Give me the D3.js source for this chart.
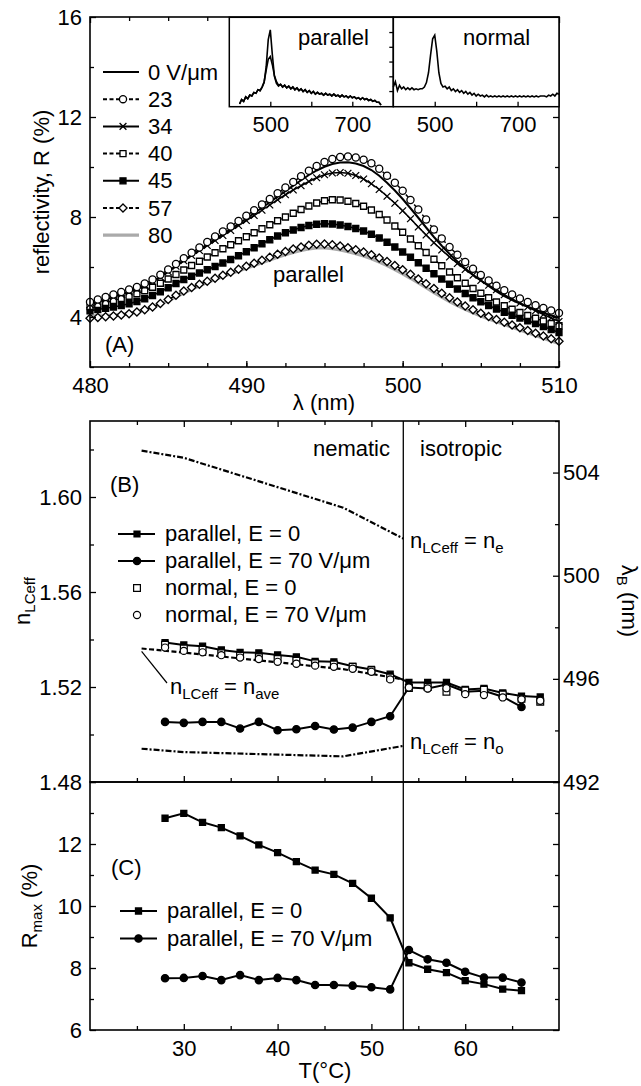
<!DOCTYPE html>
<html>
<head>
<meta charset="utf-8">
<script src="https://cdn.jsdelivr.net/npm/d3@7"></script>
<style>
  body { margin: 0; background: #fff; }
  svg { display: block; }
  text { font-family: "Liberation Sans", Arial, Helvetica, sans-serif; fill: #000; }
</style>
</head>
<body>
<div id="chart"></div>
<script>
// ---- panel A: reflectivity spectra, parallel orientation, for several fields ----
const wavelengths = d3.range(480, 510.001, 0.5);
const refl0 = [4.52,4.62,4.72,4.82,4.92,5.02,5.13,5.27,5.43,5.62,5.83,6.05,6.27,6.49,6.70,6.91,7.12,7.32,7.52,7.73,7.94,8.15,8.37,8.59,8.81,9.03,9.25,9.47,9.68,9.86,10.01,10.12,10.18,10.19,10.14,10.04,9.88,9.65,9.37,9.06,8.72,8.35,7.97,7.58,7.20,6.85,6.52,6.22,5.94,5.69,5.46,5.24,5.02,4.84,4.68,4.54,4.41,4.29,4.17,4.06,3.96];
const refl23 = [4.60,4.70,4.80,4.90,5.00,5.10,5.20,5.34,5.50,5.69,5.90,6.12,6.35,6.57,6.78,7.00,7.22,7.42,7.62,7.84,8.05,8.27,8.50,8.72,8.95,9.18,9.40,9.63,9.85,10.04,10.20,10.32,10.40,10.42,10.38,10.29,10.15,9.93,9.65,9.37,9.05,8.68,8.30,7.90,7.50,7.14,6.80,6.49,6.20,5.93,5.68,5.46,5.25,5.07,4.90,4.74,4.60,4.47,4.36,4.26,4.16];
const refl34 = [4.50,4.60,4.70,4.80,4.90,5.00,5.11,5.25,5.41,5.60,5.81,6.03,6.25,6.46,6.66,6.86,7.06,7.26,7.46,7.66,7.86,8.06,8.27,8.48,8.69,8.89,9.08,9.25,9.42,9.57,9.69,9.76,9.78,9.75,9.66,9.52,9.33,9.10,8.83,8.55,8.25,7.93,7.60,7.28,6.97,6.68,6.40,6.14,5.90,5.67,5.46,5.27,5.09,4.89,4.72,4.56,4.40,4.25,4.10,3.96,3.82];
const refl40 = [4.42,4.50,4.58,4.66,4.74,4.83,4.93,5.05,5.19,5.35,5.52,5.70,5.88,6.06,6.23,6.40,6.57,6.73,6.89,7.05,7.21,7.37,7.53,7.69,7.85,8.00,8.15,8.30,8.44,8.56,8.65,8.69,8.68,8.63,8.54,8.43,8.28,8.10,7.88,7.64,7.39,7.12,6.85,6.58,6.31,6.05,5.80,5.57,5.35,5.14,4.95,4.77,4.60,4.45,4.31,4.18,4.06,3.95,3.84,3.74,3.65];
const refl45 = [4.25,4.30,4.35,4.40,4.46,4.53,4.62,4.73,4.86,5.01,5.17,5.34,5.50,5.63,5.76,5.89,6.02,6.16,6.30,6.45,6.61,6.77,6.93,7.09,7.24,7.37,7.48,7.58,7.66,7.71,7.73,7.72,7.68,7.62,7.54,7.44,7.31,7.16,6.99,6.80,6.60,6.39,6.17,5.95,5.73,5.52,5.31,5.12,4.94,4.77,4.61,4.46,4.32,4.19,4.07,3.96,3.85,3.74,3.62,3.50,3.38];
const refl57 = [3.95,3.98,4.01,4.04,4.08,4.13,4.20,4.29,4.40,4.54,4.70,4.87,5.04,5.18,5.31,5.43,5.55,5.67,5.79,5.91,6.03,6.15,6.27,6.39,6.51,6.62,6.72,6.80,6.87,6.91,6.92,6.89,6.84,6.77,6.69,6.60,6.49,6.36,6.22,6.06,5.89,5.71,5.52,5.33,5.14,4.95,4.77,4.60,4.44,4.29,4.15,4.02,3.90,3.79,3.68,3.57,3.46,3.35,3.24,3.13,3.03];
const refl80 = [4.05,4.05,4.06,4.08,4.11,4.15,4.21,4.29,4.39,4.51,4.65,4.80,4.96,5.11,5.25,5.38,5.50,5.62,5.73,5.84,5.95,6.06,6.17,6.28,6.39,6.49,6.58,6.66,6.72,6.76,6.76,6.73,6.68,6.61,6.53,6.44,6.33,6.20,6.06,5.90,5.73,5.55,5.36,5.17,4.98,4.80,4.62,4.46,4.31,4.17,4.04,3.92,3.81,3.70,3.59,3.48,3.37,3.26,3.15,3.04,2.94];

// ---- inset spectra (arbitrary units) ----
const insetParWl = d3.range(425, 770.001, 5);
const insetParHigh = [3,8,6,11,9,13,12,16,15,19,18,22,27,45,75,86,58,34,26,23,25,22,24,21,23,20,22,19,21,18,20,17,19,16,18,15,17,14,16,14,15,13,15,13,14,12,14,12,13,11,13,11,12,10,12,10,11,9,10,8,10,8,9,7,8,6,7,5,5,2];
const insetParLow = [3,8,6,11,9,13,12,16,15,19,18,22,28,41,53,56,47,35,28,24,25,22,24,21,23,20,22,19,21,18,20,17,19,16,18,15,17,14,16,14,15,13,15,13,14,12,14,12,13,11,13,11,12,10,12,10,11,9,10,8,10,8,9,7,8,6,7,5,5,2];
const insetNormWl = d3.range(400, 800.001, 5);
const insetNorm = [22,28,18,24,20,22,19,21,19,21,19,20,19,20,20,22,27,38,58,76,80,62,38,26,22,23,20,22,18,20,17,19,16,18,15,17,14,16,13,15,12,14,12,13,11,13,11,12,11,12,11,12,11,12,11,12,11,12,11,12,11,12,11,12,11,12,11,12,11,12,11,12,12,12,11,13,12,14,12,15,14];
const insetTicks = [17.5, 34, 50.5, 67, 83.5];

// ---- panel B: effective index vs temperature ----
const temps = d3.range(28, 68.001, 2);
const nParE0 = [1.5387,1.5377,1.5372,1.5356,1.5346,1.5344,1.5335,1.5327,1.5308,1.5306,1.5287,1.5274,1.5254,1.5219,1.5219,1.5219,1.5190,1.5194,1.5175,1.5162,1.5158];
const nParE70 = [1.5053,1.5049,1.5053,1.5053,1.5025,1.5053,1.5018,1.5022,1.5036,1.5021,1.5029,1.5053,1.5077,1.5198,1.5194,1.5210,1.5180,1.5184,1.5159,1.5116];
const nNormE0 = [1.5378,1.5362,1.5357,1.5342,1.5331,1.5325,1.5318,1.5310,1.5300,1.5295,1.5285,1.5270,1.5240,1.5196,1.5200,1.5180,1.5185,1.5188,1.5168,1.5150,1.5138];
const nNormE70 = [1.5366,1.5352,1.5346,1.5334,1.5324,1.5318,1.5306,1.5298,1.5290,1.5285,1.5277,1.5264,1.5232,1.5198,1.5194,1.5195,1.5170,1.5166,1.5156,1.5148,1.5142];
const calcTemps = [25.5, 30, 47, 53.4];
const nE = [1.6195, 1.6165, 1.5955, 1.5825];
const nAve = [1.5362, 1.5345, 1.5275, 1.5232];
const nO = [1.4940, 1.4926, 1.4908, 1.4952];
const tNI = 53.4;

// ---- panel C: peak reflectivity vs temperature ----
const rmaxE0 = [12.83,12.99,12.70,12.53,12.26,11.97,11.72,11.43,11.16,11.02,10.73,10.25,9.62,8.17,7.96,7.85,7.59,7.48,7.32,7.27];
const rmaxE70 = [7.67,7.68,7.74,7.61,7.77,7.61,7.68,7.61,7.45,7.45,7.43,7.38,7.31,8.58,8.28,8.17,7.88,7.69,7.69,7.53];

// ticks
const aTicksX = [480, 490, 500, 510], aMinorX = d3.range(482.5, 510, 2.5);
const aTicksY = [4, 8, 12, 16], aMinorY = [2, 6, 10, 14];
const tTicks = [30, 40, 50, 60], tMinor = [25, 35, 45, 55, 65];
const nTicks = [1.48, 1.52, 1.56, 1.60], nMinor = [1.50, 1.54, 1.58, 1.62];
const lTicks = [492, 496, 500, 504], lMinor = [494, 498, 502, 506];
const rTicks = [6, 8, 10, 12, 14], rLabels = [6, 8, 10, 12], rMinor = [7, 9, 11, 13];

const W = 641, H = 1086;
const L = 90, R = 559;
const svg = d3.select("#chart").append("svg").attr("width", W).attr("height", H)
  .attr("font-size", 22);

const xA = d3.scaleLinear([480, 510], [L, R]);
const yA = d3.scaleLinear([2, 16], [367, 17]);
const xT = d3.scaleLinear([20, 70], [L, R]);
const yN = d3.scaleLinear([1.48, 1.632], [782, 421]);
const yL = d3.scaleLinear([492, 506], [782, 421]);
const yR = d3.scaleLinear([6, 14], [1030, 782]);
const xInP = d3.scaleLinear([400, 800], [229.3, 393.3]);
const xInN = d3.scaleLinear([400, 800], [393.3, R]);
const yIn = d3.scaleLinear([0, 100], [106.7, 17.3]);

function tickAxis(orient, scale, values, size, pos, fmt, pad) {
  const mk = {bottom: d3.axisBottom, top: d3.axisTop, left: d3.axisLeft, right: d3.axisRight}[orient];
  const g = svg.append("g")
    .attr("transform", orient === "bottom" || orient === "top" ? `translate(0,${pos})` : `translate(${pos},0)`);
  g.call(mk(scale).tickValues(values).tickSizeInner(-size).tickSizeOuter(0)
    .tickPadding(pad || 0).tickFormat(fmt || (() => "")));
  g.select(".domain").remove();
  g.attr("font-size", null).attr("font-family", null);
  g.selectAll("line").attr("stroke-width", 1.3);
  return g;
}

function marker(type) {
  const def = {
    circle: [d3.symbolCircle, 40], square: [d3.symbolSquare, 36], diamond: [d3.symbolDiamond2, 42],
    times: [d3.symbolTimes, 32], bigSquare: [d3.symbolSquare, 46], dot: [d3.symbolCircle, 42]
  }[type];
  return d3.symbol(def[0], def[1])();
}

function drawMarkers(pts, type, filled, sw) {
  svg.append("g").selectAll("path").data(pts).join("path")
    .attr("transform", d => `translate(${d[0]},${d[1]})`)
    .attr("d", marker(type))
    .attr("fill", type === "times" ? "none" : (filled ? "#000" : "#fff"))
    .attr("stroke", "#000").attr("stroke-width", sw || 1.3);
}

function drawLine(pts, opts) {
  svg.append("path").datum(pts)
    .attr("d", d3.line())
    .attr("fill", "none")
    .attr("stroke", opts.color || "#000")
    .attr("stroke-width", opts.width || 1.8)
    .attr("stroke-dasharray", opts.dash || null);
}

function richText(x, y, parts, opts = {}) {
  const t = svg.append("text").attr("x", x).attr("y", y)
    .attr("text-anchor", opts.anchor || "start");
  if (opts.rotate) t.attr("transform", `rotate(${opts.rotate},${x},${y})`);
  let shift = 0;
  parts.forEach(([str, sub]) => {
    const want = sub ? 5 : 0;
    t.append("tspan").attr("dy", want - shift).attr("font-size", sub ? 15 : 22).text(str);
    shift = want;
  });
  return t;
}

// ================= Panel A =================
const seriesA = [
  {label: "80", values: refl80, color: "#aaa", width: 3.2},
  {label: "57", values: refl57, dash: "4,2.5", marker: "diamond"},
  {label: "45", values: refl45, marker: "square", filled: true},
  {label: "40", values: refl40, dash: "4,2.5", marker: "square"},
  {label: "0 V/μm", values: refl0, width: 2},
  {label: "34", values: refl34, marker: "times"},
  {label: "23", values: refl23, dash: "4,2.5", marker: "circle"}
];
seriesA.forEach(s => {
  const pts = wavelengths.map((w, i) => [xA(w), yA(s.values[i])]);
  drawLine(pts, {color: s.color, width: s.width || 1.5, dash: s.dash});
  if (s.marker) drawMarkers(pts, s.marker, s.filled);
});

tickAxis("bottom", xA, aTicksX, 6, 367, d3.format("d"), 10);
tickAxis("bottom", xA, aMinorX, 4, 367);
tickAxis("top", xA, aTicksX, 6, 17);
tickAxis("top", xA, aMinorX, 4, 17);
tickAxis("left", yA, aTicksY, 6, L, d3.format("d"), 8);
tickAxis("left", yA, aMinorY, 4, L);
tickAxis("right", yA, aTicksY, 6, R);
tickAxis("right", yA, aMinorY, 4, R);
svg.append("rect").attr("x", L).attr("y", 17).attr("width", R - L).attr("height", 350)
  .attr("fill", "none").attr("stroke", "#000").attr("stroke-width", 1.6);

// legend A
const legendOrder = ["0 V/μm", "23", "34", "40", "45", "57", "80"];
legendOrder.forEach((lab, i) => {
  const s = seriesA.find(d => d.label === lab);
  const y = 72 + i * 27.2;
  svg.append("line").attr("x1", 103).attr("x2", 139).attr("y1", y).attr("y2", y)
    .attr("stroke", s.color || "#000").attr("stroke-width", s.width || 2)
    .attr("stroke-dasharray", s.dash || null);
  if (s.marker) drawMarkers([[123, y]], s.marker, s.filled);
  svg.append("text").attr("x", 148).attr("y", y + 7.5).text(lab);
});
svg.append("text").attr("x", 105).attr("y", 352).text("(A)");
svg.append("text").attr("x", 273).attr("y", 282).text("parallel");
svg.append("text").attr("x", 49).attr("y", 192).attr("text-anchor", "middle")
  .attr("transform", "rotate(-90,49,192)").text("reflectivity, R (%)");
svg.append("text").attr("x", 324).attr("y", 410).attr("text-anchor", "middle").text("λ (nm)");

// inset
svg.append("rect").attr("x", 229.3).attr("y", 17.3).attr("width", R - 229.3).attr("height", 89.4)
  .attr("fill", "#fff");
drawLine(insetParWl.map((w, i) => [xInP(w), yIn(insetParLow[i])]), {width: 1.6});
drawLine(insetParWl.map((w, i) => [xInP(w), yIn(insetParHigh[i])]), {width: 1.6});
drawLine(insetNormWl.map((w, i) => [xInN(w), yIn(insetNorm[i])]), {width: 1.6});
tickAxis("bottom", xInP, [500, 700], 5, 106.7, d3.format("d"), 10);
tickAxis("bottom", xInP, [600], 5, 106.7);
tickAxis("bottom", xInN, [500, 700], 5, 106.7, d3.format("d"), 10);
tickAxis("bottom", xInN, [600], 5, 106.7);
tickAxis("right", yIn, insetTicks, 4, 393.3);
svg.append("rect").attr("x", 229.3).attr("y", 17.3).attr("width", 164).attr("height", 89.4)
  .attr("fill", "none").attr("stroke", "#000").attr("stroke-width", 1.5);
svg.append("rect").attr("x", 393.3).attr("y", 17.3).attr("width", R - 393.3).attr("height", 89.4)
  .attr("fill", "none").attr("stroke", "#000").attr("stroke-width", 1.5);
svg.append("text").attr("x", 298).attr("y", 45).text("parallel");
svg.append("text").attr("x", 463).attr("y", 45).text("normal");

// ================= Panel B =================
drawLine(calcTemps.map((t, i) => [xT(t), yN(nE[i])]), {width: 2.2, dash: "6,2,2,2"});
drawLine(calcTemps.map((t, i) => [xT(t), yN(nAve[i])]), {width: 2.2, dash: "5,2.5"});
drawLine(calcTemps.map((t, i) => [xT(t), yN(nO[i])]), {width: 2.2, dash: "6,2,2,2"});

const ptsE70 = nParE70.map((v, i) => [xT(temps[i]), yN(v)]);
const ptsE0 = nParE0.map((v, i) => [xT(temps[i]), yN(v)]);
drawLine(ptsE70, {width: 2});
drawMarkers(ptsE70, "dot", true);
drawLine(ptsE0, {width: 2});
drawMarkers(ptsE0, "square", true);
drawMarkers(nNormE0.map((v, i) => [xT(temps[i]), yN(v)]), "bigSquare", false, 1.2);
drawMarkers(nNormE70.map((v, i) => [xT(temps[i]), yN(v)]), "circle", false, 1.2);

tickAxis("top", xT, tTicks, 6, 421);
tickAxis("top", xT, tMinor, 4, 421);
tickAxis("bottom", xT, tTicks, 6, 782);
tickAxis("bottom", xT, tMinor, 4, 782);
tickAxis("left", yN, nTicks, 6, L, d3.format(".2f"), 8);
tickAxis("left", yN, nMinor, 4, L);
tickAxis("right", yL, lTicks, 6, R, d3.format("d"), 4);
tickAxis("right", yL, lMinor, 4, R);
svg.append("rect").attr("x", L).attr("y", 421).attr("width", R - L).attr("height", 361)
  .attr("fill", "none").attr("stroke", "#000").attr("stroke-width", 1.6);

// legend B
const legendB = [
  {label: "parallel, E = 0", marker: "square", filled: true, line: true},
  {label: "parallel, E = 70 V/μm", marker: "dot", filled: true, line: true},
  {label: "normal, E = 0", marker: "bigSquare", filled: false},
  {label: "normal, E = 70 V/μm", marker: "circle", filled: false}
];
legendB.forEach((d, i) => {
  const y = 534 + i * 27;
  if (d.line) svg.append("line").attr("x1", 118).attr("x2", 155).attr("y1", y).attr("y2", y)
    .attr("stroke", "#000").attr("stroke-width", 2);
  drawMarkers([[137, y]], d.marker, d.filled, 1.2);
  svg.append("text").attr("x", 165).attr("y", y + 7).text(d.label);
});
svg.append("text").attr("x", 110).attr("y", 492).text("(B)");
svg.append("text").attr("x", 390).attr("y", 456).attr("text-anchor", "end").text("nematic");
svg.append("text").attr("x", 420).attr("y", 456).text("isotropic");
richText(410, 548, [["n"], ["LCeff", true], [" = n"], ["e", true]]);
richText(410, 749, [["n"], ["LCeff", true], [" = n"], ["o", true]]);
richText(170, 694, [["n"], ["LCeff", true], [" = n"], ["ave", true]]);
svg.append("line").attr("x1", xT(25.5)).attr("y1", yN(1.5350)).attr("x2", 167).attr("y2", 683)
  .attr("stroke", "#000").attr("stroke-width", 1.2);
richText(30, 601, [["n"], ["LCeff", true]], {rotate: -90, anchor: "middle"});
richText(622, 601, [["λ"], ["B", true], [" (nm)"]], {rotate: 90, anchor: "middle"});

// ================= Panel C =================
const ptsR0 = rmaxE0.map((v, i) => [xT(temps[i]), yR(v)]);
const ptsR70 = rmaxE70.map((v, i) => [xT(temps[i]), yR(v)]);
drawLine(ptsR0, {width: 2});
drawMarkers(ptsR0, "square", true);
drawLine(ptsR70, {width: 2});
drawMarkers(ptsR70, "dot", true);

tickAxis("bottom", xT, tTicks, 6, 1030, d3.format("d"), 10);
tickAxis("bottom", xT, tMinor, 4, 1030);
tickAxis("left", yR, rTicks, 6, L);
tickAxis("left", yR, rLabels, 0, L, d3.format("d"), 8);
tickAxis("left", yR, rMinor, 4, L);
tickAxis("right", yR, rTicks, 6, R);
tickAxis("right", yR, rMinor, 4, R);
svg.append("rect").attr("x", L).attr("y", 782).attr("width", R - L).attr("height", 248)
  .attr("fill", "none").attr("stroke", "#000").attr("stroke-width", 1.6);

const legendC = [
  {label: "parallel, E = 0", marker: "square"},
  {label: "parallel, E = 70 V/μm", marker: "dot"}
];
legendC.forEach((d, i) => {
  const y = 911 + i * 27.5;
  svg.append("line").attr("x1", 120).attr("x2", 157).attr("y1", y).attr("y2", y)
    .attr("stroke", "#000").attr("stroke-width", 2);
  drawMarkers([[138.5, y]], d.marker, true);
  svg.append("text").attr("x", 167).attr("y", y + 7).text(d.label);
});
svg.append("text").attr("x", 111).attr("y", 875).text("(C)");
richText(37, 906, [["R"], ["max", true], [" (%)"]], {rotate: -90, anchor: "middle"});
svg.append("text").attr("x", 325).attr("y", 1078).attr("text-anchor", "middle").text("T(°C)");

// phase transition line through B and C
svg.append("line").attr("x1", xT(tNI)).attr("x2", xT(tNI)).attr("y1", 421).attr("y2", 1030)
  .attr("stroke", "#000").attr("stroke-width", 1.3);
</script>
</body>
</html>
